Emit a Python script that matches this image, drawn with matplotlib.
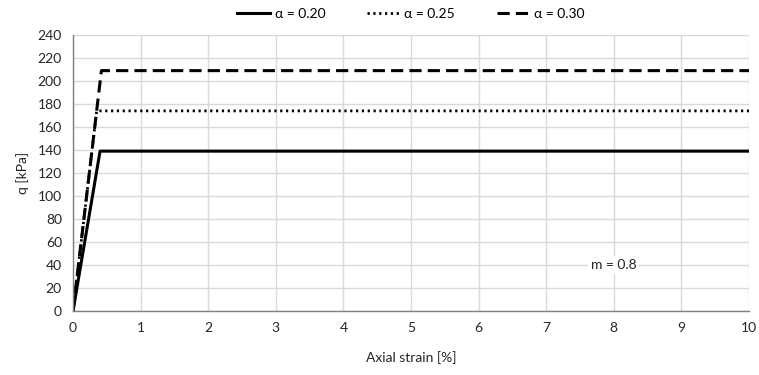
import numpy as np
import matplotlib.pyplot as plt

plt.rcParams['font.family'] = ['Lato', 'DejaVu Sans']
plt.rcParams['font.size'] = 10

# stress-strain curves, axial strain [%] vs q [kPa]
strain_020 = [0.0, 0.40, 10.0]
q_020 = [0.0, 139.0, 139.0]
strain_025 = [0.0, 0.35, 10.0]
q_025 = [0.0, 174.0, 174.0]
strain_030 = [0.0, 0.42, 10.0]
q_030 = [0.0, 209.0, 209.0]

labels = ['α = 0.20', 'α = 0.25', 'α = 0.30']

fig = plt.figure(figsize=(7.59, 3.75), dpi=100)
ax = fig.add_axes([0.0962, 0.1707, 0.8906, 0.736])

ax.plot(strain_020, q_020, color='black', lw=2.2, ls='-', label=labels[0])
ax.plot(strain_025, q_025, color='black', lw=2.0, ls=(0, (0.8, 1.3)), label=labels[1])
ax.plot(strain_030, q_030, color='black', lw=2.2, ls=(0, (4, 2)), label=labels[2])

ax.set_xlim(0, 10)
ax.set_ylim(0, 240)
ax.set_xticks(np.arange(0, 11, 1))
ax.set_yticks(np.arange(0, 241, 20))
ax.grid(True, color='#d9d9d9', lw=1.0)
ax.set_axisbelow(True)
for s in ['top', 'right']:
    ax.spines[s].set_visible(False)
for s in ['bottom', 'left']:
    ax.spines[s].set_color('#808080')
    ax.spines[s].set_linewidth(1.0)
ax.tick_params(length=0, pad=8, labelsize=10, colors='#262626')

ax.set_xlabel('Axial strain [%]', fontsize=10, color='#262626', labelpad=12)
ax.set_ylabel('q [kPa]', fontsize=10, color='#262626', labelpad=6)

ax.text(8, 40, 'm = 0.8', ha='center', va='center', fontsize=10, color='#262626',
        bbox=dict(facecolor='white', edgecolor='none', pad=2))

ax.legend(loc='lower center', bbox_to_anchor=(0.5, 1.02), ncol=3, frameon=False,
          fontsize=10, handlelength=2.4, columnspacing=3.0, handletextpad=0.3,
          borderaxespad=0.3)

fig.savefig('out.png', dpi=100)
